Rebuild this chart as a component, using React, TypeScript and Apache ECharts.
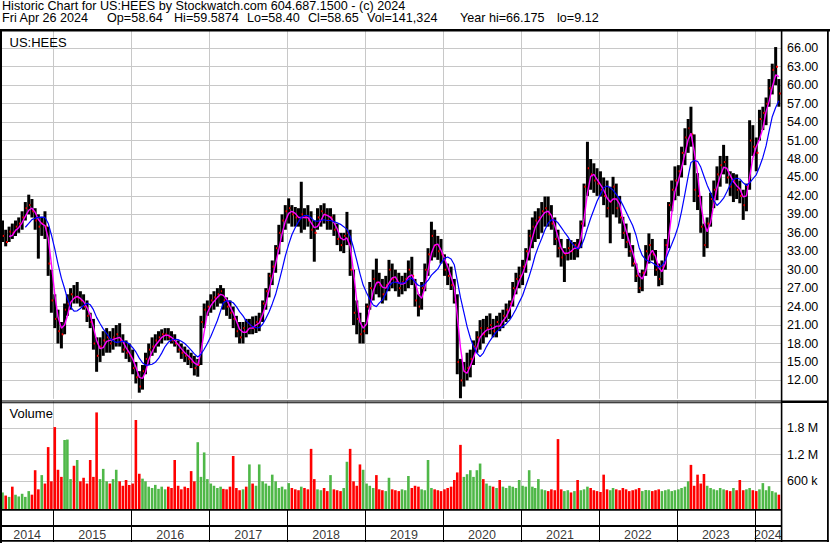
import React, { useEffect, useRef } from "react";
import * as echarts from "echarts";

const FONT = "'Liberation Sans', Arial, Helvetica, sans-serif";

// Half-month periods starting May 2014 (first half), ending April 2024 (second half)
const lows = [
  34.5, 33.8, 34.5, 35.0, 35.5, 36.0, 36.5, 38.0, 39.0, 38.5,
  36.5, 31.8, 35.5, 35.0, 29.0, 23.0, 20.5, 18.0, 17.2, 19.5,
  22.5, 23.5, 24.5, 24.5, 24.0, 23.5, 21.5, 20.5, 17.0, 13.4,
  15.0, 16.0, 16.5, 16.5, 17.0, 17.5, 17.5, 16.5, 15.5, 15.0,
  13.0, 11.5, 10.0, 10.5, 13.0, 14.5, 16.0, 16.5, 17.5, 18.0,
  18.5, 18.5, 18.0, 17.5, 16.5, 15.5, 15.0, 14.5, 14.0, 12.8,
  12.6, 14.5, 20.5, 22.5, 23.0, 23.5, 24.0, 24.5, 23.5, 22.5,
  22.0, 20.5, 19.0, 18.0, 18.0, 19.0, 19.5, 19.5, 19.7, 20.0,
  21.5, 23.5, 25.5, 27.5, 29.5, 32.5, 34.5, 36.5, 37.5, 37.0,
  37.0, 37.0, 36.0, 36.5, 37.0, 35.0, 31.3, 36.5, 37.0, 37.5,
  36.5, 36.5, 35.5, 34.0, 33.0, 32.7, 34.0, 29.0, 21.0, 19.5,
  18.0, 18.0, 19.5, 23.5, 25.0, 26.0, 25.5, 24.5, 25.0, 26.5,
  27.0, 26.5, 25.6, 26.0, 26.5, 27.0, 27.5, 24.0, 22.4, 23.5,
  26.5, 29.0, 31.5, 32.0, 31.6, 31.0, 29.0, 27.5, 26.7, 24.5,
  13.0, 9.1, 11.0, 12.0, 12.5, 14.5, 16.5, 17.0, 18.0, 19.0,
  19.5, 19.0, 19.0, 20.0, 20.5, 21.5, 22.0, 24.0, 26.0, 27.0,
  27.5, 29.5, 31.5, 33.5, 34.5, 35.0, 36.0, 37.0, 37.0, 36.5,
  34.0, 32.0, 30.5, 28.0, 31.5, 31.6, 31.6, 32.0, 33.5, 37.0,
  42.0, 43.0, 42.5, 42.0, 41.9, 40.5, 38.5, 34.3, 39.0, 38.5,
  37.5, 35.0, 33.5, 32.1, 30.5, 28.0, 26.2, 26.5, 29.0, 31.0,
  31.5, 29.0, 27.3, 27.5, 30.0, 33.5, 39.5, 41.3, 42.0, 45.0,
  47.0, 49.0, 50.0, 41.0, 39.7, 36.0, 32.1, 33.5, 37.0, 40.0,
  41.3, 43.5, 45.5, 44.0, 42.0, 41.0, 41.5, 40.8, 38.1, 39.5,
  43.0, 48.5, 46.0, 51.0, 52.7, 53.5, 56.5, 58.5, 60.0, 56.5,
];

const highs = [
  38.0, 36.5, 37.0, 37.5, 38.0, 38.5, 39.5, 41.0, 42.2, 41.5,
  40.0, 39.0, 38.6, 39.5, 37.0, 30.0, 26.0, 23.5, 21.5, 24.5,
  26.0, 27.0, 27.5, 28.0, 26.5, 26.0, 25.0, 23.0, 22.0, 19.0,
  19.0, 20.0, 20.5, 20.0, 20.5, 21.0, 21.3, 19.5, 18.5, 18.0,
  17.0, 15.0, 13.5, 14.5, 16.5, 18.0, 19.0, 19.5, 20.0, 20.3,
  20.5, 20.5, 20.0, 19.5, 18.5, 18.0, 17.5, 17.0, 16.5, 16.0,
  15.5, 22.5, 24.5, 25.0, 26.0, 26.5, 27.0, 27.5, 27.0, 25.5,
  25.0, 24.0, 22.5, 21.5, 21.5, 22.0, 22.0, 22.4, 22.5, 23.0,
  25.0, 27.0, 29.5, 31.5, 34.0, 37.3, 39.0, 40.5, 41.6, 40.5,
  40.2, 40.0, 44.3, 40.0, 40.5, 39.5, 38.0, 40.0, 40.5, 40.8,
  40.0, 40.0, 39.0, 37.5, 36.0, 36.0, 39.4, 36.5, 30.0, 25.0,
  23.0, 21.5, 24.5, 28.0, 30.0, 31.8, 29.5, 28.5, 29.0, 31.6,
  31.0, 30.0, 29.5, 29.0, 29.5, 31.5, 32.1, 28.5, 26.0, 28.0,
  31.0, 33.5, 37.8, 36.5, 35.5, 35.0, 32.5, 31.0, 30.5, 28.5,
  26.0, 15.5, 15.0, 16.5, 17.0, 18.5, 20.0, 21.8, 22.0, 22.5,
  22.9, 22.0, 22.5, 23.0, 23.5, 24.5, 25.0, 28.0, 29.5, 30.5,
  31.6, 33.5, 36.5, 38.5, 39.5, 40.0, 41.0, 41.9, 41.9, 40.5,
  38.5, 36.5, 35.0, 33.5, 35.0, 34.8, 34.5, 35.0, 38.0, 44.0,
  50.8, 48.0, 47.3, 46.5, 46.0, 45.0, 44.5, 43.5, 45.1, 44.0,
  42.0, 38.6, 37.5, 36.0, 34.0, 31.0, 29.5, 30.0, 34.0, 35.9,
  35.0, 33.2, 31.0, 31.5, 35.0, 41.0, 44.5, 46.8, 47.0, 50.0,
  53.0, 54.5, 56.5, 52.0, 45.7, 42.0, 37.5, 38.5, 42.5, 44.5,
  46.8, 48.5, 50.3, 48.5, 46.0, 45.7, 45.5, 44.5, 43.0, 44.0,
  54.3, 53.5, 51.5, 56.0, 56.5, 58.0, 61.0, 63.5, 66.2, 61.0,
];

const closes = [
  35.5, 34.5, 36.2, 36.0, 37.0, 37.5, 38.5, 40.0, 40.5, 39.5,
  38.0, 37.0, 37.5, 37.0, 31.0, 25.0, 22.0, 20.0, 19.5, 23.5,
  24.5, 26.0, 25.5, 25.5, 25.0, 24.0, 22.5, 21.5, 18.0, 16.0,
  17.5, 18.5, 19.0, 18.0, 19.0, 19.5, 18.5, 17.0, 16.5, 16.0,
  14.0, 12.5, 11.0, 13.5, 15.5, 17.0, 17.5, 18.5, 19.0, 19.5,
  19.5, 19.0, 18.5, 18.0, 17.0, 16.5, 16.0, 15.5, 15.0, 14.0,
  14.5, 21.5, 23.5, 24.0, 25.0, 25.5, 26.0, 26.5, 25.0, 24.0,
  23.0, 22.0, 20.0, 19.0, 20.5, 20.0, 21.0, 20.5, 21.5, 22.0,
  24.5, 26.5, 29.0, 30.5, 33.5, 36.0, 38.0, 39.5, 40.0, 39.0,
  38.5, 38.0, 39.0, 38.5, 38.0, 36.5, 36.0, 38.5, 39.5, 39.0,
  38.0, 38.5, 36.5, 35.0, 34.0, 35.5, 36.0, 30.0, 23.0, 22.0,
  19.5, 20.0, 24.0, 27.0, 28.5, 28.0, 27.5, 26.0, 27.5, 30.0,
  28.5, 28.0, 27.0, 28.0, 28.5, 30.0, 29.0, 25.0, 24.0, 27.0,
  30.0, 32.5, 35.5, 34.0, 33.0, 32.5, 30.0, 29.0, 27.5, 25.0,
  15.0, 12.0, 13.5, 14.0, 15.5, 17.5, 19.0, 20.5, 19.5, 20.5,
  21.0, 20.0, 21.5, 21.0, 22.5, 23.5, 24.5, 27.0, 28.5, 29.0,
  30.5, 33.0, 35.5, 37.0, 38.0, 38.5, 39.5, 40.0, 39.0, 37.5,
  35.0, 33.5, 32.0, 32.5, 33.5, 33.0, 34.0, 33.5, 37.5, 43.5,
  46.5, 45.5, 44.5, 44.0, 43.0, 42.0, 40.0, 41.0, 43.5, 40.0,
  38.5, 36.0, 34.5, 33.0, 31.0, 29.0, 27.0, 29.5, 33.0, 34.0,
  32.5, 30.0, 28.5, 30.5, 34.0, 40.5, 43.0, 44.5, 46.0, 49.0,
  51.5, 53.0, 52.0, 43.0, 42.0, 37.0, 34.0, 37.5, 41.5, 43.0,
  45.5, 47.0, 47.5, 45.0, 43.5, 44.5, 43.0, 42.0, 40.5, 43.5,
  51.0, 50.0, 49.0, 54.5, 55.5, 57.0, 59.5, 62.5, 63.0, 58.65,
];

// volume per bar, thousands of shares
const volumesK = [
  350, 280, 250, 480, 300, 260, 320, 250, 380, 300,
  850, 420, 740, 550, 1370, 600, 1820, 860, 700, 1530,
  1540, 650, 950, 1080, 600, 680, 550, 1080, 700, 2150,
  650, 880, 600, 550, 650, 860, 600, 500, 630, 520,
  550, 1980, 770, 660, 600, 480, 450, 520, 430, 480,
  420, 480, 450, 1080, 500, 420, 480, 450, 830, 600,
  1480, 700, 1250, 650, 550, 500, 450, 480, 430, 420,
  480, 1170, 450, 400, 420, 480, 980, 550, 500, 980,
  600, 550, 500, 750, 600, 450, 480, 420, 560, 450,
  420, 400, 480, 450, 420, 1330, 650, 420, 400, 450,
  380, 740, 420, 400, 380, 450, 1040, 1330, 600, 500,
  980, 860, 550, 500, 450, 740, 420, 400, 380, 680,
  420, 400, 380, 420, 400, 720, 450, 500, 480, 420,
  400, 1080, 450, 420, 400, 380, 420, 450, 480, 630,
  800, 1420, 700, 760, 850, 700, 850, 1000, 650, 550,
  500, 480, 450, 630, 480, 450, 500, 480, 450, 630,
  500, 480, 850, 480, 450, 650, 420, 400, 380, 420,
  400, 1550, 420, 380, 400, 350, 380, 630, 400, 420,
  480, 450, 400, 380, 360, 750, 420, 400, 450, 420,
  400, 450, 420, 380, 400, 420, 450, 380, 405, 400,
  380, 400, 420, 380, 400, 420, 380, 400, 420, 450,
  480, 600, 970, 500, 750, 550, 765, 500, 450, 420,
  400, 450, 420, 400, 380, 450, 400, 630, 400, 420,
  450, 400, 380, 420, 560, 400, 490, 380, 350, 300,
];

const yearStarts = [2015, 2016, 2017, 2018, 2019, 2020, 2021, 2022, 2023, 2024];
const yearLabels = ["2014", "2015", "2016", "2017", "2018", "2019", "2020", "2021", "2022", "2023", "2024"];
const volumeTickLabels: Record<number, string> = { 600000: "600 k", 1200000: "1.2 M", 1800000: "1.8 M" };

const titleLine1 = "Historic Chart for US:HEES by Stockwatch.com 604.687.1500 - (c) 2024";
const titleFields = [
  "Fri Apr 26 2024", "Op=58.64", "Hi=59.5874", "Lo=58.40", "Cl=58.65",
  "Vol=141,324", "Year hi=66.175", "lo=9.12",
];
const titleFieldX = [2, 107, 174, 247, 308, 367, 460, 557];

const AXIS_MIN = Date.UTC(2014, 4, 1);
const AXIS_MAX = Date.UTC(2024, 4, 3);

const dates = closes.map((_, i) => {
  const m = 4 + Math.floor(i / 2);
  return Date.UTC(2014 + Math.floor(m / 12), m % 12, i % 2 === 0 ? 8 : 23);
});

function sma(arr: number[], n: number): (number | null)[] {
  return arr.map((_, i) => {
    if (i < n - 1) return null;
    let s = 0;
    for (let k = i - n + 1; k <= i; k++) s += arr[k];
    return s / n;
  });
}

export default function App() {
  const ref = useRef<HTMLDivElement>(null);
  useEffect(() => {
    if (!ref.current) return;
    const chart = echarts.init(ref.current, undefined, { renderer: "svg" });
    const maFast = sma(closes, 3);
    const maSlow = sma(closes, 8);
    const priceData = dates.map((t, i) => [t, lows[i], highs[i], closes[i]]);
    const volData = dates.map((t, i) => [t, volumesK[i] * 1000, i === 0 || closes[i] >= closes[i - 1] ? 1 : 0]);
    const fastData = dates.map((t, i) => [t, maFast[i]]).filter((d) => d[1] !== null);
    const slowData = dates.map((t, i) => [t, maSlow[i]]).filter((d) => d[1] !== null);
    const yearLines = yearStarts.map((y) => ({ xAxis: Date.UTC(y, 0, 1) }));
    const labelData = yearLabels.map((lab) => {
      const y = Number(lab);
      const s = Math.max(Date.UTC(y, 0, 1), AXIS_MIN);
      const e = Math.min(Date.UTC(y + 1, 0, 1), AXIS_MAX);
      return { name: lab, value: [(s + e) / 2, 0.44] };
    });
    const gridMark = (color: string) => ({
      silent: true,
      z: 1,
      symbol: ["none", "none"],
      label: { show: false },
      emphasis: { disabled: true },
      lineStyle: { color, width: 1, type: "solid" },
      data: yearLines,
    });
    const xAx = (gridIndex: number) => ({
      type: "time", gridIndex, min: AXIS_MIN, max: AXIS_MAX, show: false,
    });
    const blk = (x: number, y: number, w: number, h: number) => ({
      type: "rect", shape: { x, y, width: w, height: h }, style: { fill: "#000" }, z: 10, silent: true,
    });
    const txt = (text: string, x: number, y: number, size: number) => ({
      type: "text", x, y, z: 10, silent: true,
      style: { text, fill: "#000", font: `${size}px ${FONT}`, textVerticalAlign: "middle", textAlign: "left" },
    });

    chart.setOption({
      animation: false,
      backgroundColor: "#fff",
      grid: [
        { left: 1, right: 49, top: 29.85, height: 369 },
        { left: 1, right: 49, top: 401.3, height: 106.7 },
        { left: 1, right: 49, top: 509, height: 33 },
      ],
      xAxis: [xAx(0), xAx(1), xAx(2)],
      yAxis: [
        {
          type: "value", gridIndex: 0, position: "right", min: 9, max: 69, interval: 3,
          axisLine: { show: false }, axisTick: { show: false },
          axisLabel: {
            color: "#000", fontSize: 12.5, fontFamily: FONT, margin: 6,
            showMinLabel: false, showMaxLabel: false,
            formatter: (v: number) => v.toFixed(2),
          },
          splitLine: { show: true, showMinLine: false, showMaxLine: false, lineStyle: { color: "#c8c8c8", width: 1 } },
        },
        {
          type: "value", gridIndex: 1, position: "right", min: 0, max: 2400000, interval: 600000,
          axisLine: { show: false }, axisTick: { show: false },
          axisLabel: {
            color: "#000", fontSize: 12.5, fontFamily: FONT, margin: 6,
            formatter: (v: number) => volumeTickLabels[v] || "",
          },
          splitLine: { show: true, showMinLine: false, showMaxLine: false, lineStyle: { color: "#c8c8c8", width: 1 } },
        },
        { type: "value", gridIndex: 2, min: 0, max: 2, show: false },
      ],
      series: [
        {
          type: "line", xAxisIndex: 0, yAxisIndex: 0, data: [[AXIS_MIN, 30], [AXIS_MAX, 30]],
          showSymbol: false, lineStyle: { opacity: 0, width: 0 }, silent: true,
          markLine: gridMark("#c8c8c8"),
        },
        {
          type: "custom", xAxisIndex: 0, yAxisIndex: 0, data: priceData, encode: { x: 0, y: [1, 2] },
          silent: true, z: 2,
          renderItem: (_p: any, api: any) => {
            const t = api.value(0);
            const pl = api.coord([t, api.value(1)]);
            const ph = api.coord([t, api.value(2)]);
            const pc = api.coord([t, api.value(3)]);
            const w = 3.0;
            return {
              type: "group",
              children: [
                { type: "rect", shape: { x: pl[0] - w / 2, y: ph[1], width: w, height: Math.max(1, pl[1] - ph[1]) }, style: { fill: "#000" } },
                { type: "rect", shape: { x: pc[0] + 0.3, y: pc[1] - 1, width: 2, height: 2 }, style: { fill: "#ff0000" } },
              ],
            };
          },
        },
        {
          type: "line", xAxisIndex: 0, yAxisIndex: 0, data: fastData, showSymbol: false, z: 3,
          lineStyle: { color: "#ff00ff", width: 1.4 }, silent: true,
        },
        {
          type: "line", xAxisIndex: 0, yAxisIndex: 0, data: slowData, showSymbol: false, z: 3,
          lineStyle: { color: "#0000ff", width: 1.2 }, silent: true,
        },
        {
          type: "line", xAxisIndex: 1, yAxisIndex: 1, data: [[AXIS_MIN, 0], [AXIS_MAX, 0]],
          showSymbol: false, lineStyle: { opacity: 0, width: 0 }, silent: true,
          markLine: gridMark("#c8c8c8"),
        },
        {
          type: "custom", xAxisIndex: 1, yAxisIndex: 1, data: volData, encode: { x: 0, y: 1 }, silent: true, z: 2,
          renderItem: (_p: any, api: any) => {
            const t = api.value(0);
            const top = api.coord([t, api.value(1)]);
            const base = api.coord([t, 0]);
            const up = api.value(2);
            return {
              type: "rect",
              shape: { x: top[0] - 1.3, y: top[1], width: 2.6, height: base[1] - top[1] + 1 },
              style: { fill: up ? "#4fb848" : "#ff0000" },
            };
          },
        },
        {
          type: "scatter", xAxisIndex: 2, yAxisIndex: 2, data: labelData, symbolSize: 1,
          itemStyle: { color: "rgba(0,0,0,0)" }, silent: true,
          label: { show: true, position: "inside", formatter: "{b}", color: "#000", fontSize: 12.5, fontFamily: FONT },
          markLine: { ...gridMark("#000"), z: 5 },
        },
      ],
      graphic: [
        txt(titleLine1, 2, 5.6, 12.6),
        ...titleFields.map((f, i) => txt(f, titleFieldX[i], 18.2, 12.6)),
        txt("US:HEES", 9.5, 42, 13),
        txt("Volume", 9.5, 413.5, 13),
        blk(0, 29, 830, 2.4),
        blk(0, 29, 2, 514),
        blk(780.8, 29, 1.6, 513),
        blk(827, 29, 1.8, 513),
        blk(0, 400.5, 781, 1),
        blk(0, 402.3, 781, 1),
        blk(781, 400.5, 47, 2.5),
        blk(0, 509, 781, 1.7),
        blk(0, 525, 781, 2),
        blk(0, 540, 829, 1.8),
      ],
    });
    return () => chart.dispose();
  }, []);
  return (
    <div
      ref={ref}
      style={{ position: "fixed", left: 0, top: 0, width: 830, height: 543, background: "#fff" }}
    />
  );
}
